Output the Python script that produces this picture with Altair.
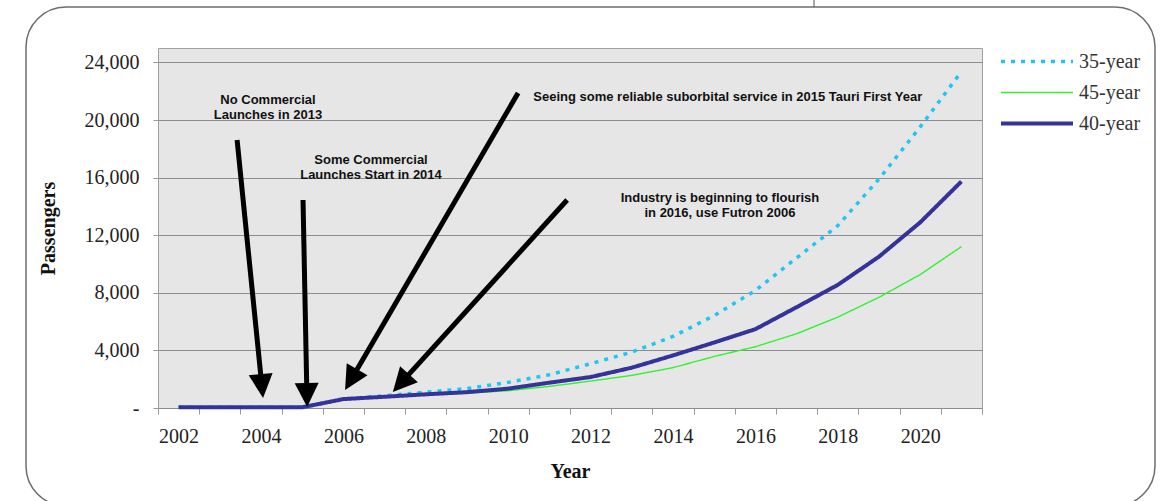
import math
import altair as alt
import pandas as pd

# ---------------- data ----------------
years = list(range(2002, 2022))
series_names = ["35-year", "45-year", "40-year"]
series_colors = ["#22C4F2", "#33F033", "#333399"]
passengers_35 = [50, 50, 50, 50, 620, 850, 1100, 1350, 1780, 2310, 3075, 3880, 4970, 6420,
                 8160, 10420, 12660, 15900, 19520, 23360]
passengers_45 = [50, 50, 50, 50, 600, 760, 920, 1030, 1200, 1500, 1870, 2265, 2800, 3580,
                 4255, 5155, 6310, 7690, 9265, 11205]
passengers_40 = [50, 50, 50, 50, 620, 780, 950, 1100, 1345, 1760, 2150, 2800, 3650, 4550,
                 5475, 7000, 8550, 10510, 12890, 15730]
y_ticks = [0, 4000, 8000, 12000, 16000, 20000, 24000]

# annotations (fractional years, passengers of first text line)
note_texts = ["No Commercial\nLaunches in 2013",
              "Some Commercial\nLaunches Start in 2014",
              "Seeing some reliable suborbital service in 2015 Tauri First Year",
              "Industry is beginning to flourish\nin 2016, use Futron 2006"]
note_year = [2004.17, 2006.67, 2015.33, 2015.14]
note_pass = [21389, 17222, 21597, 14583]

arrow_tail_year = [2003.42, 2005.02, 2010.24, 2011.43]
arrow_tail_pass = [18611, 14444, 21875, 14444]
arrow_tip_year = [2004.05, 2005.12, 2006.04, 2007.20]
arrow_tip_pass = [694, 69, 1250, 1111]

# ---------------- layout ----------------
W, H = 824, 360
Y_MAX = 25000
X_DOM = [2001.5, 2021.5]
px_per_year = W / (X_DOM[1] - X_DOM[0])
px_per_pass = H / Y_MAX
HEAD = 24

rows = []
for name, vals in zip(series_names, [passengers_35, passengers_45, passengers_40]):
    for yr, v in zip(years, vals):
        rows.append({"Year": yr, "Passengers": v, "Series": name})
df = pd.DataFrame(rows)

notes = pd.DataFrame({"text": note_texts, "yr": note_year, "v": note_pass})

arr_rows = []
for ty, tv, hy, hv in zip(arrow_tail_year, arrow_tail_pass, arrow_tip_year, arrow_tip_pass):
    dx = (hy - ty) * px_per_year
    dy = (tv - hv) * px_per_pass
    L = math.hypot(dx, dy)
    ux, uy = dx / L, dy / L
    ang = math.degrees(math.atan2(-dx, dy)) % 360
    end_y = hy - ux * (HEAD * 0.7) / px_per_year
    end_v = hv + uy * (HEAD * 0.7) / px_per_pass
    arr_rows.append({"ty": ty, "tv": tv, "ey": end_y, "ev": end_v,
                     "hy": hy, "hv": hv, "angle": ang})
arrows = pd.DataFrame(arr_rows)

serif = "Liberation Serif"
sans = "Liberation Sans"

y_scale = alt.Scale(domain=[0, Y_MAX], nice=False, zero=True)
xq_scale = alt.Scale(domain=X_DOM, nice=False, zero=False)

legend = alt.Legend(
    title=None, orient="none", legendX=841, legendY=-2,
    symbolType="stroke", symbolSize=5184, labelFont=serif, labelFontSize=20,
    labelColor="#333333", labelOffset=4, rowPadding=0, clipHeight=31,
)

lines = alt.Chart(df).mark_line(strokeCap="butt", strokeJoin="round").encode(
    x=alt.X("Year:O", bandPosition=0.5,
            scale=alt.Scale(type="band", paddingInner=0, paddingOuter=0),
            axis=alt.Axis(title="Year", titleFont=serif, titleFontSize=20,
                          titleFontWeight="bold", titleColor="#111111",
                          titleY=63, titleBaseline="middle",
                          labelFont=serif, labelFontSize=20, labelColor="#222222",
                          labelAngle=0, labelPadding=12, labelOverlap=False,
                          labelExpr="datum.value % 2 == 0 ? datum.label : ''",
                          tickBand="extent", tickSize=6, tickColor="#999999",
                          domain=False, grid=False)),
    y=alt.Y("Passengers:Q", scale=y_scale,
            axis=alt.Axis(values=y_ticks, title="Passengers", titleFont=serif,
                          titleFontSize=20, titleFontWeight="bold", titleColor="#111111",
                          titleX=-110, titleY=180, titleAngle=270, titleBaseline="middle",
                          labelFont=serif, labelFontSize=20, labelColor="#222222",
                          labelPadding=14,
                          labelExpr="datum.value == 0 ? '-' : format(datum.value, ',')",
                          tickSize=5, tickColor="#999999", domain=False,
                          grid=True, gridColor="#8C8C8C", gridWidth=1)),
    color=alt.Color("Series:N", scale=alt.Scale(domain=series_names, range=series_colors),
                    legend=legend),
    strokeDash=alt.StrokeDash("Series:N",
                              scale=alt.Scale(domain=series_names,
                                              range=[[4, 6], [1, 0], [1, 0]]),
                              legend=legend),
    strokeWidth=alt.StrokeWidth("Series:N",
                                scale=alt.Scale(type="ordinal", domain=series_names,
                                                range=[3.5, 1.4, 4]),
                                legend=legend),
)

texts = alt.Chart(notes).mark_text(
    font=sans, fontSize=13, fontWeight="bold", color="#111111",
    lineBreak="\n", lineHeight=15, align="center", baseline="middle",
).encode(
    x=alt.X("yr:Q", scale=xq_scale, axis=None),
    y=alt.Y("v:Q", scale=y_scale),
    text="text:N",
)

shafts = alt.Chart(arrows).mark_rule(color="black", strokeWidth=5, strokeCap="butt").encode(
    x=alt.X("ty:Q", scale=xq_scale, axis=None),
    x2="ey:Q",
    y=alt.Y("tv:Q", scale=y_scale),
    y2="ev:Q",
)

heads = alt.Chart(arrows).mark_point(
    shape="M0,0 L-0.5,-1 L0.5,-1 Z", filled=True, color="black", opacity=1,
    size=(HEAD * 2) ** 2, strokeWidth=0,
).encode(
    x=alt.X("hy:Q", scale=xq_scale, axis=None),
    y=alt.Y("hv:Q", scale=y_scale),
    angle=alt.Angle("angle:Q", scale=None),
)

annotations = alt.layer(shafts, heads, texts)

one = pd.DataFrame({"k": [0]})
frame = alt.Chart(one).mark_rect(
    fill="transparent", stroke="#6E6E6E", strokeWidth=1.5, cornerRadius=40
).encode(
    x=alt.value(26 - 158), x2=alt.value(1155 - 158),
    y=alt.value(7 - 48), y2=alt.value(506 - 48),
)
tick_top = alt.Chart(one).mark_rule(color="#555555", strokeWidth=1).encode(
    x=alt.value(814 - 158), y=alt.value(-48), y2=alt.value(7 - 48),
)

chart = alt.layer(frame, tick_top, lines, annotations).resolve_scale(
    x="independent"
).properties(
    width=W, height=H,
    autosize=alt.AutoSizeParams(type="none"),
    padding={"left": 158, "top": 48, "right": 183, "bottom": 93},
    background="white",
).configure_view(
    fill="#E6E6E6", stroke="#A0A0A0", strokeWidth=1,
)

chart.save("out.html", embed_options={"renderer": "svg", "actions": False})
